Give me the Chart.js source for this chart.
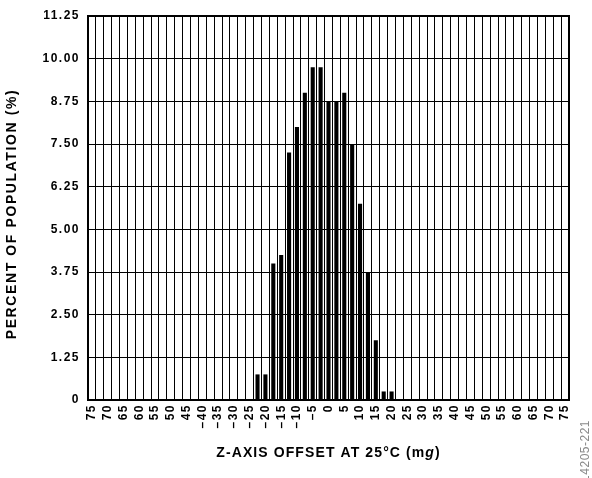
<!DOCTYPE html>
<html><head><meta charset="utf-8">
<script src="https://cdn.jsdelivr.net/npm/chart.js@4/dist/chart.umd.min.js"></script>
<style>html,body{margin:0;padding:0;background:#fff}canvas{display:block}</style>
</head><body>
<canvas id="c" width="592" height="478"></canvas>
<script>
// Bin centres (mg), 2.5 mg bins
const binCenters = [-75,-72.5,-70,-67.5,-65,-62.5,-60,-57.5,-55,-52.5,-50,-47.5,-45,-42.5,-40,-37.5,-35,-32.5,-30,-27.5,-25,-22.5,-20,-17.5,-15,-12.5,-10,-7.5,-5,-2.5,0,2.5,5,7.5,10,12.5,15,17.5,20,22.5,25,27.5,30,32.5,35,37.5,40,42.5,45,47.5,50,52.5,55,57.5,60,62.5,65,67.5,70,72.5,75];
// Percent of population per bin
const percentOfPopulation = [0,0,0,0,0,0,0,0,0,0,0,0,0,0,0,0,0,0,0,0,0,0.75,0.75,4.0,4.25,7.25,8.0,9.0,9.75,9.75,8.75,8.75,9.0,7.5,5.75,3.75,1.75,0.25,0.25,0,0,0,0,0,0,0,0,0,0,0,0,0,0,0,0,0,0,0,0,0,0];
// X tick labels (every other bin)
const xTickLabels = ['75','70','65','60','55','50','45','\u201340','\u201335','\u201330','\u201325','\u201320','\u201315','\u201310','\u20135','0','5','10','15','20','25','30','35','40','45','50','55','60','65','70','75'];
// Y tick labels
const yTickLabels = ['0','1.25','2.50','3.75','5.00','6.25','7.50','8.75','10.00','11.25'];
const xTitleMain = 'Z-AXIS OFFSET AT 25\u00B0C (m';
const xTitleItalic = 'g';
const xTitleEnd = ')';
const yTitle = 'PERCENT OF POPULATION (%)';
const figureId = '14205-221';

const FONT = '"Liberation Sans", Arial, Helvetica, sans-serif';

function setSpacing(chart){ try { chart.ctx.letterSpacing = '1.5px'; } catch(e){} }

const decor = {
  id: 'decor',
  beforeUpdate: setSpacing,
  beforeLayout: setSpacing,
  beforeDraw: setSpacing,
  afterDraw(chart){
    const ctx = chart.ctx, a = chart.chartArea;
    ctx.save();
    // plot frame
    ctx.strokeStyle = '#000';
    ctx.lineWidth = 2;
    ctx.strokeRect(a.left, a.top, a.right - a.left, a.bottom - a.top);
    ctx.fillStyle = '#000';
    // x title with italic g
    ctx.letterSpacing = '1.1px';
    ctx.textBaseline = 'alphabetic';
    ctx.textAlign = 'left';
    const fB = 'bold 14px ' + FONT, fI = 'italic bold 14px ' + FONT;
    ctx.font = fB; const w1 = ctx.measureText(xTitleMain).width;
    ctx.font = fI; const w2 = ctx.measureText(xTitleItalic).width;
    ctx.font = fB; const w3 = ctx.measureText(xTitleEnd).width;
    const cx = (a.left + a.right) / 2;
    let x = cx - (w1 + w2 + w3) / 2;
    const y = a.bottom + 57;
    ctx.font = fB; ctx.fillText(xTitleMain, x, y); x += w1;
    ctx.font = fI; ctx.fillText(xTitleItalic, x, y); x += w2;
    ctx.font = fB; ctx.fillText(xTitleEnd, x, y);
    // y title
    ctx.save();
    ctx.letterSpacing = '1.6px';
    ctx.translate(16, (a.top + a.bottom) / 2 + 6);
    ctx.rotate(-Math.PI / 2);
    ctx.textAlign = 'center';
    ctx.font = fB;
    ctx.fillText(yTitle, 0, 0);
    ctx.restore();
    // figure id
    ctx.save();
    ctx.letterSpacing = '0.5px';
    ctx.fillStyle = '#8a8a8a';
    ctx.translate(589, 420);
    ctx.rotate(-Math.PI / 2);
    ctx.textAlign = 'right';
    ctx.font = '12px ' + FONT;
    ctx.fillText(figureId, 0, 0);
    ctx.restore();
    ctx.restore();
  }
};

new Chart(document.getElementById('c'), {
  type: 'bar',
  data: {
    labels: binCenters,
    datasets: [{
      data: percentOfPopulation,
      backgroundColor: '#000',
      borderWidth: 0,
      barPercentage: 0.52,
      categoryPercentage: 1.0
    }]
  },
  options: {
    responsive: false,
    animation: false,
    devicePixelRatio: 1,
    layout: { padding: { top: 16, right: 23, left: 0, bottom: 0 } },
    plugins: { legend: { display: false }, tooltip: { enabled: false }, title: { display: false } },
    scales: {
      x: {
        offset: true,
        grid: { color: '#000', lineWidth: 1, drawTicks: false, offset: true },
        border: { display: false },
        ticks: {
          autoSkip: false, minRotation: 90, maxRotation: 90, padding: 4, color: '#000',
          font: { family: FONT, size: 12, weight: 'bold' },
          callback: (v, i) => (i % 2 === 0 ? xTickLabels[i / 2] : '')
        },
        afterFit: s => { s.height = 78; }
      },
      y: {
        min: 0, max: 11.25,
        grid: { color: '#000', lineWidth: 1, drawTicks: false },
        border: { display: false },
        ticks: {
          stepSize: 1.25, padding: 8, color: '#000',
          font: { family: FONT, size: 12, weight: 'bold' },
          callback: (v, i) => yTickLabels[i]
        },
        afterFit: s => { s.width = 88; }
      }
    }
  },
  plugins: [decor]
});
</script>
</body></html>
